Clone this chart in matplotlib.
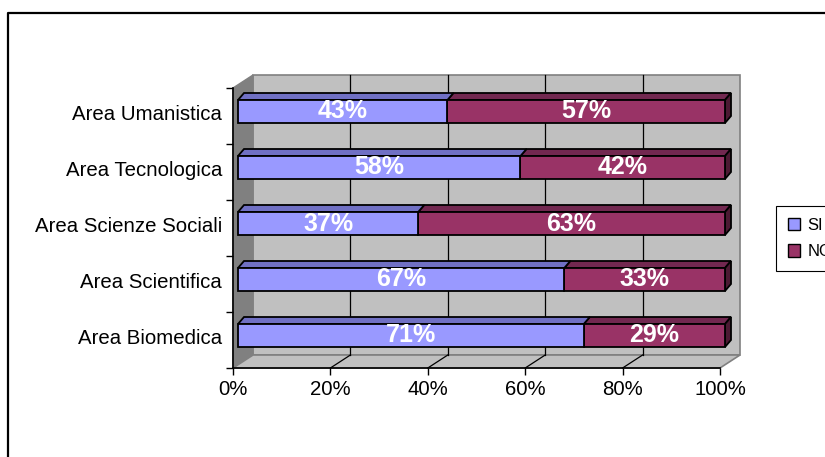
import matplotlib
matplotlib.use('Agg')
import matplotlib.pyplot as plt
from matplotlib.patches import Polygon, Rectangle, Patch
from matplotlib.lines import Line2D
import numpy as np

# ---------------- data ----------------
categories = ['Area Biomedica', 'Area Scientifica', 'Area Scienze Sociali',
              'Area Tecnologica', 'Area Umanistica']
si_values = [71, 67, 37, 58, 43]
no_values = [29, 33, 63, 42, 57]
series_names = ['SI', 'NO']
x_ticks = [0, 20, 40, 60, 80, 100]
x_tick_labels = ['0%', '20%', '40%', '60%', '80%', '100%']

# ---------------- style ----------------
plt.rcParams['font.family'] = ['Liberation Sans', 'DejaVu Sans']
SI_FRONT, SI_TOP = '#9999ff', '#7070c4'
NO_FRONT, NO_TOP, NO_SIDE = '#993366', '#722850', '#4c1a33'
WALL_BACK, WALL_LEFT, WALL_EDGE = '#c0c0c0', '#808080', '#808080'

W, H, DPI = 825, 457, 100
fig = plt.figure(figsize=(W / DPI, H / DPI), dpi=DPI)
fig.patch.set_facecolor('white')

# front plane of the 3D box (pixels)
L, R, T, B = 233, 720, 88, 368
ax = fig.add_axes([L / W, 1 - B / H, (R - L) / W, (B - T) / H])
n = len(categories)
ax.set_xlim(0, 100)
ax.set_ylim(-0.5, n - 0.5)
ax.patch.set_visible(False)

px_x = (R - L) / 100.0
px_y = (B - T) / n


def d(px, py):
    return px / px_x, py / px_y


wx, wy = d(20, 13)      # depth of walls / floor
fox, foy = d(5, 4.5)    # bar front plane offset
bdx, bdy = d(6, 7)      # bar depth
bar_h = 23 / px_y

y0, y1 = -0.5, n - 0.5
# back wall
ax.add_patch(Rectangle((wx, y0 + wy), 100, n, fc=WALL_BACK, ec=WALL_EDGE,
                       lw=1.2, clip_on=False, zorder=0.5))
# left wall
ax.add_patch(Polygon([(0, y0), (0, y1), (wx, y1 + wy), (wx, y0 + wy)],
                     closed=True, fc=WALL_LEFT, ec=WALL_EDGE, lw=1,
                     clip_on=False, zorder=0.6))
# floor
ax.add_patch(Polygon([(0, y0), (100, y0), (100 + wx, y0 + wy), (wx, y0 + wy)],
                     closed=True, fc=WALL_BACK, ec=WALL_EDGE, lw=1.2,
                     clip_on=False, zorder=0.6))
# gridlines on back wall and floor
for t in x_ticks[1:-1]:
    ax.plot([t + wx, t + wx], [y0 + wy, y1 + wy], color='black', lw=0.9,
            clip_on=False, zorder=0.8)
    ax.plot([t, t + wx], [y0, y0 + wy], color='black', lw=0.9,
            clip_on=False, zorder=0.8)

# ---------------- bars ----------------
def box(x0, width, yc, front, top, side=None, z=3):
    yb, yt = yc - bar_h / 2, yc + bar_h / 2
    x1 = x0 + width
    ax.add_patch(Polygon([(x0, yt), (x1, yt), (x1 + bdx, yt + bdy), (x0 + bdx, yt + bdy)],
                         closed=True, fc=top, ec='black', lw=1.3, clip_on=False, zorder=z))
    if side is not None:
        ax.add_patch(Polygon([(x1, yb), (x1, yt), (x1 + bdx, yt + bdy), (x1 + bdx, yb + bdy)],
                             closed=True, fc=side, ec='black', lw=1.3, clip_on=False, zorder=z))
    ax.add_patch(Rectangle((x0, yb), width, bar_h, fc=front, ec='black', lw=1.3,
                           clip_on=False, zorder=z + 0.1))


for i in range(n):
    yc = i + foy
    si, no = si_values[i], no_values[i]
    box(fox + si, no, yc, NO_FRONT, NO_TOP, NO_SIDE, z=3)
    box(fox, si, yc, SI_FRONT, SI_TOP, None, z=3.5)
    ax.text(fox + si / 2, yc, f'{si}%', ha='center', va='center', color='white',
            fontsize=18, fontweight='bold', zorder=5)
    ax.text(fox + si + no / 2, yc, f'{no}%', ha='center', va='center', color='white',
            fontsize=18, fontweight='bold', zorder=5)

# ---------------- axes ----------------
for s in ['top', 'right']:
    ax.spines[s].set_visible(False)
for s in ['left', 'bottom']:
    ax.spines[s].set_color('black')
    ax.spines[s].set_linewidth(1.2)
    ax.spines[s].set_zorder(2)

ax.set_xticks(x_ticks)
ax.set_xticklabels(x_tick_labels, fontsize=14.7)
ax.tick_params(axis='x', length=5, width=1, direction='out', pad=3.5, colors='black')

ax.set_yticks(np.arange(n + 1) - 0.5)
ax.set_yticklabels([])
ax.tick_params(axis='y', which='major', length=5, width=1, direction='out')
ax.set_yticks(np.arange(n) + foy * 0.7, minor=True)
ax.set_yticklabels(categories, minor=True, fontsize=14.7)
ax.tick_params(axis='y', which='minor', length=0, pad=8)

# ---------------- legend ----------------
handles = [Patch(fc=SI_FRONT, ec='black', lw=1),
           Patch(fc=NO_FRONT, ec='black', lw=1)]
leg = fig.legend(handles, series_names, loc='upper left',
                 bbox_to_anchor=(776 / W, 1 - 206 / H), bbox_transform=fig.transFigure,
                 fontsize=12, frameon=True, fancybox=False, edgecolor='black',
                 framealpha=1, borderpad=0.7, handlelength=0.75, handleheight=0.75,
                 handletextpad=0.45, labelspacing=0.7, borderaxespad=0)
leg.get_frame().set_linewidth(0.8)

# ---------------- outer chart border (partly cropped) ----------------
fig.add_artist(Line2D([8 / W, 8 / W, 1.02], [-0.02, 1 - 13 / H, 1 - 13 / H],
                      transform=fig.transFigure, color='black', lw=1.6))

fig.savefig('out.png', dpi=DPI, facecolor='white')
